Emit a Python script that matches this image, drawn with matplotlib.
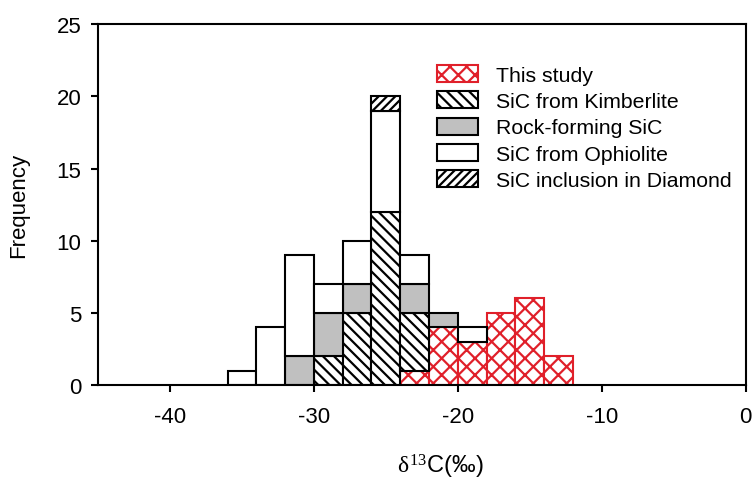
import numpy as np
import matplotlib
matplotlib.use('Agg')
import matplotlib.pyplot as plt
from matplotlib.patches import Patch

# bin left edges (width 2 permil)
bin_left = [-36, -34, -32, -30, -28, -26, -24, -22, -20, -18, -16, -14]
this_study = [0, 0, 0, 0, 0, 0, 1, 4, 3, 5, 6, 2]
kimberlite = [0, 0, 0, 2, 5, 12, 4, 0, 0, 0, 0, 0]
rock_forming = [0, 0, 2, 3, 2, 0, 2, 1, 0, 0, 0, 0]
ophiolite = [1, 4, 7, 2, 3, 7, 2, 0, 1, 0, 0, 0]
diamond = [0, 0, 0, 0, 0, 1, 0, 0, 0, 0, 0, 0]

plt.rcParams['font.family'] = ['Liberation Sans', 'DejaVu Sans']
plt.rcParams['axes.unicode_minus'] = False
plt.rcParams['mathtext.fontset'] = 'custom'
plt.rcParams['mathtext.rm'] = 'Liberation Serif'
plt.rcParams['mathtext.it'] = 'Liberation Serif'
plt.rcParams['hatch.linewidth'] = 1.6

fig = plt.figure(figsize=(7.54, 4.85), dpi=100)
ax = fig.add_axes([0.13, 0.204, 0.859, 0.744])

series = [
    (this_study, 'This study', 'white', '#e0202a', 'xx'),
    (kimberlite, 'SiC from Kimberlite', 'white', 'black', '\\\\\\'),
    (rock_forming, 'Rock-forming SiC', '#c0c0c0', 'black', None),
    (ophiolite, 'SiC from Ophiolite', 'white', 'black', None),
    (diamond, 'SiC inclusion in Diamond', 'white', 'black', '////'),
]

x = np.array(bin_left, dtype=float)
bottom = np.zeros(len(x))
handles = []
for vals, label, fc, ec, hatch in series:
    v = np.array(vals, dtype=float)
    m = v > 0
    ax.bar(x[m], v[m], width=2, bottom=bottom[m], align='edge',
           facecolor=fc, edgecolor=ec, hatch=hatch, linewidth=1.5)
    bottom += v
    handles.append(Patch(facecolor=fc, edgecolor=ec, hatch=hatch,
                         linewidth=1.5, label=label))

ax.set_xlim(-45, 0)
ax.set_ylim(0, 25)
ax.set_xticks([-40, -30, -20, -10, 0])
ax.set_yticks([0, 5, 10, 15, 20, 25])
ax.tick_params(direction='out', length=5, width=1.5, labelsize=16)
ax.tick_params(axis='x', pad=10)
ax.tick_params(axis='y', pad=7)
for s in ax.spines.values():
    s.set_linewidth(1.5)

ax.set_ylabel('Frequency', fontsize=16, labelpad=20)
ax.set_xlabel(r'$\delta^{13}$C(‰)', fontsize=17, labelpad=18, x=0.528)

ax.legend(handles=handles, loc='upper left', bbox_to_anchor=(0.51, 0.91),
          frameon=False, fontsize=15.3, handlelength=1.95, handleheight=0.85,
          labelspacing=0.3, handletextpad=0.85, borderaxespad=0)

fig.savefig('out.png', dpi=100)
